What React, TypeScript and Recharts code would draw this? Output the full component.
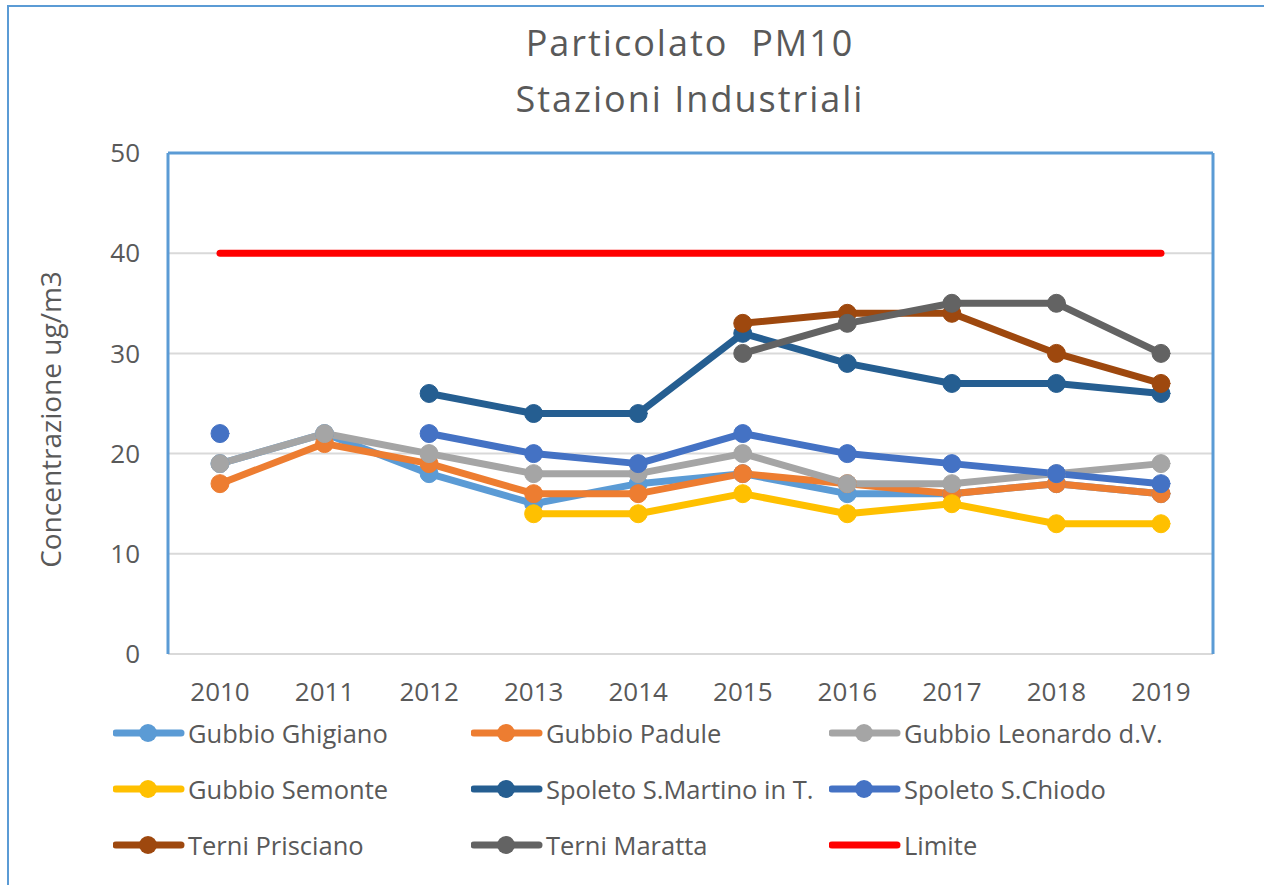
import React from "react";
import { LineChart, Line, XAxis, YAxis, CartesianGrid, Label } from "recharts";

const years = ["2010", "2011", "2012", "2013", "2014", "2015", "2016", "2017", "2018", "2019"];
const gubbioGhigiano = [19, 22, 18, 15, 17, 18, 16, 16, 17, 16];
const gubbioPadule = [17, 21, 19, 16, 16, 18, 17, 16, 17, 16];
const gubbioLeonardo = [19, 22, 20, 18, 18, 20, 17, 17, 18, 19];
const gubbioSemonte = [null, null, null, 14, 14, 16, 14, 15, 13, 13];
const spoletoMartino = [null, null, 26, 24, 24, 32, 29, 27, 27, 26];
const spoletoChiodo = [22, null, 22, 20, 19, 22, 20, 19, 18, 17];
const terniPrisciano = [null, null, null, null, null, 33, 34, 34, 30, 27];
const terniMaratta = [null, null, null, null, null, 30, 33, 35, 35, 30];
const limite = [40, 40, 40, 40, 40, 40, 40, 40, 40, 40];
const yTicks = [0, 10, 20, 30, 40, 50];

const series = [
  { key: "g1", name: "Gubbio Ghigiano", color: "#5B9BD5", values: gubbioGhigiano, dot: true },
  { key: "g2", name: "Gubbio Padule", color: "#ED7D31", values: gubbioPadule, dot: true },
  { key: "g3", name: "Gubbio Leonardo d.V.", color: "#A5A5A5", values: gubbioLeonardo, dot: true },
  { key: "g4", name: "Gubbio Semonte", color: "#FFC000", values: gubbioSemonte, dot: true },
  { key: "s1", name: "Spoleto S.Martino in T.", color: "#255E91", values: spoletoMartino, dot: true },
  { key: "s2", name: "Spoleto S.Chiodo", color: "#4472C4", values: spoletoChiodo, dot: true },
  { key: "t1", name: "Terni Prisciano", color: "#9E480E", values: terniPrisciano, dot: true },
  { key: "t2", name: "Terni Maratta", color: "#636363", values: terniMaratta, dot: true },
  { key: "lim", name: "Limite", color: "#FF0000", values: limite, dot: false },
];

const data = years.map((y, i) => {
  const row: any = { year: y };
  series.forEach((s) => {
    row[s.key] = s.values[i];
  });
  return row;
});

const FONT = "'Open Sans', sans-serif";
const TEXT = "#595959";
const FRAME = "#5B9BD5";

const legendCols = [113, 471, 829];
const legendRows = [733, 789, 845];

export default function App() {
  return (
    <div style={{ position: "absolute", left: 0, top: 0, width: 1264, height: 885, overflow: "hidden", background: "#fff", fontFamily: FONT }}>
      <div style={{ position: "absolute", left: 7, top: 5, width: 1300, height: 900, border: `2px solid ${FRAME}`, boxSizing: "border-box" }} />
      <div style={{ position: "absolute", left: 190, width: 1000, top: 15, textAlign: "center", fontSize: 36, letterSpacing: 2, lineHeight: "56px", color: TEXT, whiteSpace: "pre" }}>
        <div>{"Particolato  PM10"}</div>
        <div>Stazioni Industriali</div>
      </div>
      <div style={{ position: "absolute", left: 0, top: 0 }}>
        <LineChart width={1264} height={885} data={data} margin={{ top: 152, right: 50, bottom: 0, left: 0 }}>
          <CartesianGrid horizontal vertical={false} stroke="#D9D9D9" strokeWidth={2} />
          <XAxis
            dataKey="year"
            height={231}
            padding={{ left: 52, right: 52 }}
            tickLine={false}
            tickSize={0}
            tickMargin={29}
            axisLine={{ stroke: "#D9D9D9", strokeWidth: 2 }}
            tick={{ fill: TEXT, fontSize: 26, fontFamily: FONT }}
          />
          <XAxis
            xAxisId="top"
            orientation="top"
            dataKey="year"
            height={1}
            padding={{ left: 52, right: 52 }}
            tick={false}
            tickLine={false}
            axisLine={{ stroke: FRAME, strokeWidth: 3 }}
          />
          <YAxis
            domain={[0, 50]}
            ticks={yTicks}
            width={168}
            tickLine={false}
            tickSize={0}
            tickMargin={28}
            axisLine={{ stroke: FRAME, strokeWidth: 3 }}
            tick={{ fill: TEXT, fontSize: 26, fontFamily: FONT }}
          >
            <Label
              content={(props: any) => {
                const vb = props.viewBox || { x: 0, y: 153, width: 168, height: 501 };
                const cx = vb.x + 50;
                const cy = vb.y + vb.height / 2 + 16;
                return (
                  <text x={cx} y={cy} transform={`rotate(-90, ${cx}, ${cy})`} textAnchor="middle" dominantBaseline="central" fill={TEXT} fontSize={28} fontFamily={FONT}>
                    Concentrazione ug/m3
                  </text>
                );
              }}
            />
          </YAxis>
          <YAxis
            yAxisId="right"
            orientation="right"
            domain={[0, 50]}
            ticks={yTicks}
            width={1}
            tick={false}
            tickLine={false}
            axisLine={{ stroke: FRAME, strokeWidth: 3 }}
          />
          {series.map((s) => {
            const isLim = s.key === "lim";
            return (
              <Line
                key={s.key}
                dataKey={s.key}
                name={s.name}
                xAxisId={isLim ? "top" : 0}
                yAxisId={isLim ? "right" : 0}
                stroke={s.color}
                strokeWidth={7}
                strokeLinecap="round"
                strokeLinejoin="round"
                dot={s.dot ? { r: 9, fill: s.color, stroke: s.color, strokeWidth: 1 } : false}
                activeDot={false}
                connectNulls={false}
                isAnimationActive={false}
              />
            );
          })}
        </LineChart>
      </div>
      {series.map((s, i) => {
        const x = legendCols[i % 3];
        const y = legendRows[Math.floor(i / 3)];
        return (
          <div key={s.key} style={{ position: "absolute", left: x, top: y - 20, height: 40, display: "flex", alignItems: "center" }}>
            <svg width={72} height={24} style={{ display: "block" }}>
              <line x1={3} y1={12} x2={68} y2={12} stroke={s.color} strokeWidth={7} strokeLinecap="round" />
              {s.dot && <circle cx={35} cy={12} r={9} fill={s.color} />}
            </svg>
            <span style={{ marginLeft: 3, fontSize: 25.5, color: TEXT, whiteSpace: "nowrap", lineHeight: "34px" }}>{s.name}</span>
          </div>
        );
      })}
    </div>
  );
}
